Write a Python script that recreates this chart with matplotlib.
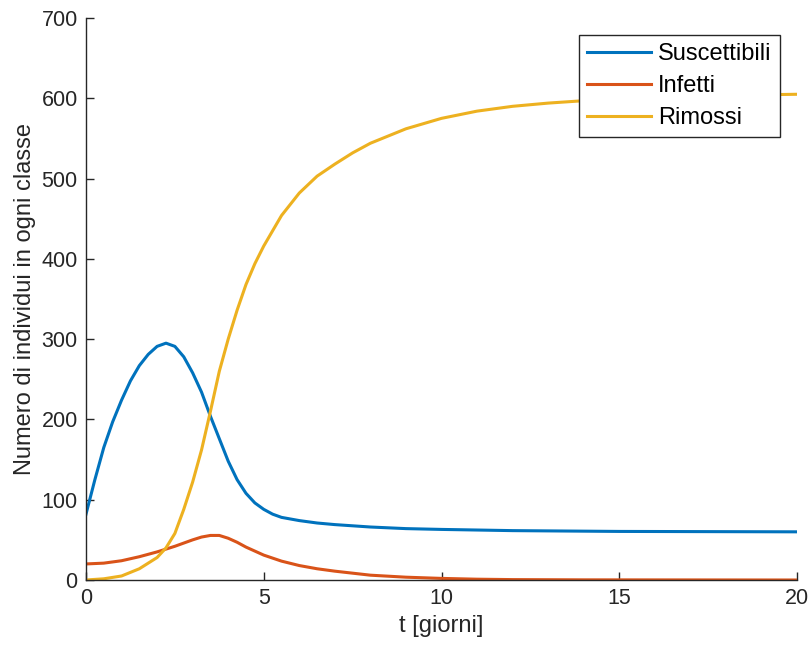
import matplotlib
matplotlib.use("Agg")
import matplotlib.pyplot as plt

plt.rcParams['font.family'] = ['Liberation Sans', 'DejaVu Sans']

# Suscettibili
t_s = [0, 0.25, 0.5, 0.75, 1, 1.25, 1.5, 1.75, 2, 2.25, 2.5, 2.75, 3, 3.25, 3.5,
       3.75, 4, 4.25, 4.5, 4.75, 5, 5.25, 5.5, 6, 6.5, 7, 8, 9, 10, 12, 15, 20]
v_s = [82, 125, 165, 197, 224, 248, 267, 281, 291, 295, 291, 278, 258, 234, 204,
       176, 148, 125, 108, 96, 88, 82, 78, 74, 71, 69, 66, 64, 63, 61.5, 60.5, 60]

# Infetti
t_i = [0, 0.5, 1, 1.5, 2, 2.5, 3, 3.25, 3.5, 3.75, 4, 4.25, 4.5, 5, 5.5, 6, 6.5,
       7, 7.5, 8, 9, 10, 11, 12, 14, 17, 20]
v_i = [20, 21, 24, 29, 35, 42, 50, 53.5, 55.5, 55.5, 52, 47, 41, 31, 23.5, 18, 14,
       11, 8.5, 6, 3.5, 2, 1, 0.5, 0.2, 0.1, 0]

# Rimossi
t_r = [0, 0.5, 1, 1.5, 2, 2.25, 2.5, 2.75, 3, 3.25, 3.5, 3.75, 4, 4.25, 4.5, 4.75,
       5, 5.5, 6, 6.5, 7, 7.5, 8, 9, 10, 11, 12, 13, 14, 15, 17, 20]
v_r = [0, 1.5, 5, 14, 28, 40, 58, 88, 122, 162, 210, 260, 300, 336, 368, 394,
       416, 454, 482, 503, 518, 532, 544, 562, 575, 584, 590, 594, 597, 600, 603, 605]

labels = ['Suscettibili', 'Infetti', 'Rimossi']
colors = ['#0072BD', '#D95319', '#EDB120']
xticks = [0, 5, 10, 15, 20]
yticks = [0, 100, 200, 300, 400, 500, 600, 700]

fig = plt.figure(figsize=(8.11, 6.52), dpi=100)
ax = fig.add_axes([86/811, 1-580/652, 711/811, 562/652])

for t, v, lab, c in zip([t_s, t_i, t_r], [v_s, v_i, v_r], labels, colors):
    ax.plot(t, v, color=c, lw=2.2, label=lab, solid_joinstyle='round')

ax.set_xlim(0, 20)
ax.set_ylim(0, 700)
ax.set_xticks(xticks)
ax.set_yticks(yticks)
for s in ['top', 'right']:
    ax.spines[s].set_visible(False)
for s in ['left', 'bottom']:
    ax.spines[s].set_color('#262626')
    ax.spines[s].set_linewidth(1.0)
ax.tick_params(direction='in', length=6, width=1, colors='#262626',
               labelsize=15.5, pad=6)
ax.set_xlabel('t [giorni]', fontsize=17, color='#262626', labelpad=4)
ax.set_ylabel('Numero di individui in ogni classe', fontsize=17,
              color='#262626', labelpad=4)

leg = ax.legend(loc='upper right', bbox_to_anchor=(0.976, 0.9698),
                borderaxespad=0, fontsize=17, handlelength=2.7,
                handletextpad=0.3, labelspacing=0.42, borderpad=0.35,
                fancybox=False, framealpha=1)
leg.get_frame().set_edgecolor('#262626')
leg.get_frame().set_linewidth(1.0)

fig.savefig('out.png', dpi=100)
